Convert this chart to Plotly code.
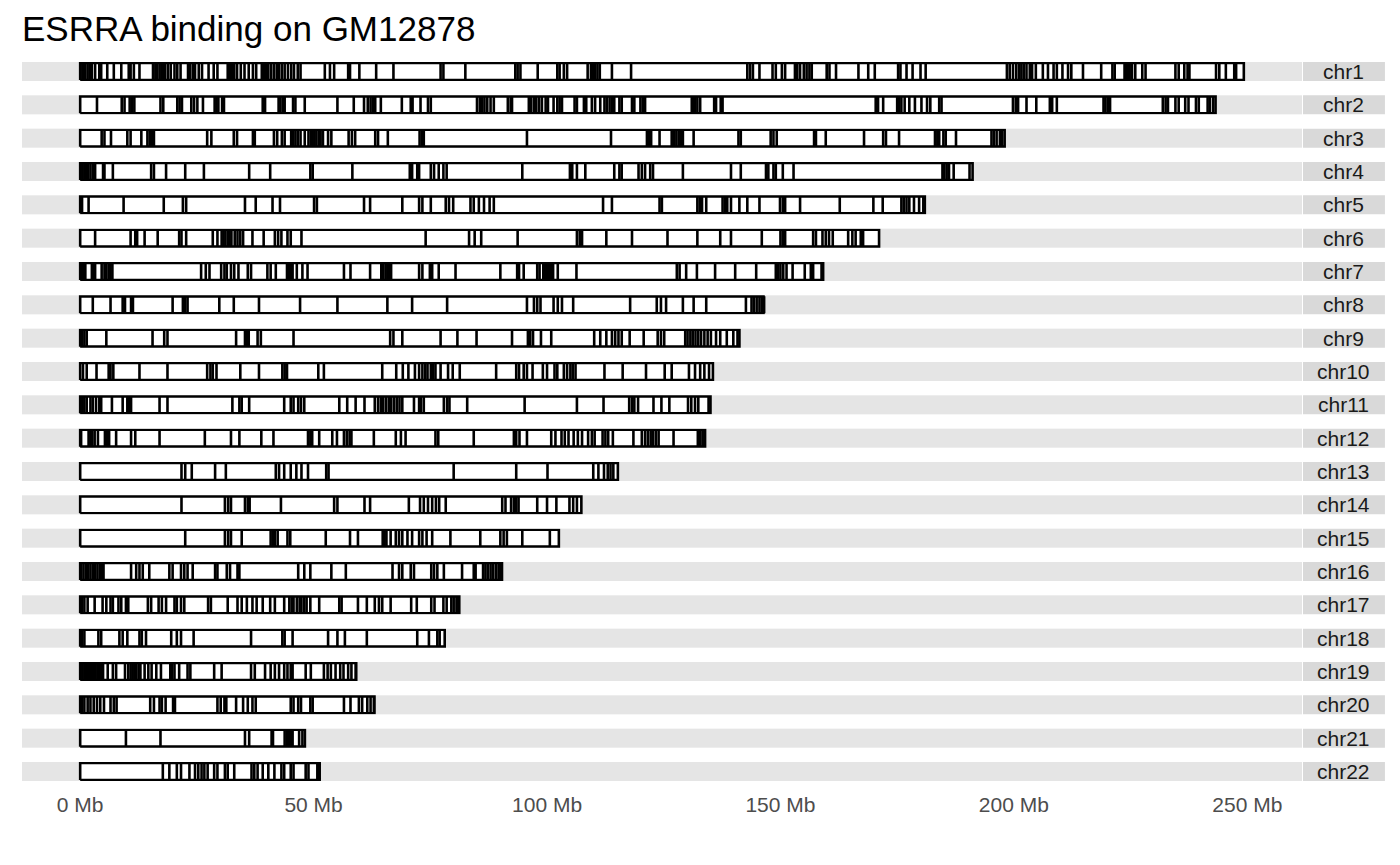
import plotly.graph_objects as go
from plotly.subplots import make_subplots

# chromosome names and hg19 lengths (Mb)
chrom_names = ["chr1", "chr2", "chr3", "chr4", "chr5", "chr6", "chr7", "chr8", "chr9", "chr10", "chr11",
               "chr12", "chr13", "chr14", "chr15", "chr16", "chr17", "chr18", "chr19", "chr20", "chr21", "chr22"]
chrom_lengths = [249.25, 243.20, 198.02, 191.15, 180.92, 171.12, 159.14, 146.36, 141.21, 135.53, 135.01,
                 133.85, 115.17, 107.35, 102.53, 90.35, 81.20, 78.08, 59.13, 63.03, 48.13, 51.30]

# ESRRA peak positions (Mb)
peaks_chr1 = [0.1, 0.6, 1.1, 1.6, 2.1, 2.5, 3.2, 4.1, 4.5, 5.8, 7.2, 8.8, 10.4, 10.8, 11.5, 12.7, 15.6, 16.1, 16.5,
              17.0, 17.4, 17.8, 18.2, 18.8, 19.4, 20.2, 20.8, 21.5, 23.1, 23.5, 24.1, 24.6, 25.4, 26.1, 27.5, 28.6,
              29.4, 31.6, 32.1, 32.5, 33.0, 33.6, 34.4, 35.2, 36.1, 37.0, 37.7, 38.9, 39.4, 39.8, 40.3, 40.9, 41.5,
              42.1, 42.6, 43.2, 43.8, 44.5, 45.2, 45.8, 46.6, 47.2, 52.4, 53.5, 54.4, 57.4, 57.8, 59.8, 63.4, 67.1,
              77.2, 77.8, 82.5, 93.2, 93.7, 94.3, 98.0, 102.2, 102.7, 103.6, 104.3, 108.7, 109.4, 109.8, 110.3,
              110.8, 111.3, 113.9, 118.0, 142.9, 143.5, 144.1, 145.5, 148.3, 149.0, 150.3, 151.0, 153.1, 153.6,
              154.2, 155.0, 155.6, 156.2, 156.7, 159.9, 160.5, 161.9, 166.7, 168.8, 170.2, 175.2, 175.7, 177.0,
              178.3, 180.0, 181.1, 198.5, 199.1, 199.8, 200.5, 201.1, 201.6, 202.1, 202.7, 203.4, 203.9, 204.7,
              206.2, 207.3, 208.5, 209.2, 210.4, 211.6, 212.3, 214.8, 218.7, 221.1, 221.6, 223.7, 224.0, 224.4,
              224.8, 225.3, 226.0, 227.5, 228.2, 234.6, 235.3, 236.5, 237.2, 237.6, 243.3, 244.0, 245.4, 247.2,
              247.6]
peaks_chr2 = [3.6, 8.9, 9.5, 10.6, 11.1, 11.6, 17.2, 17.8, 20.8, 21.3, 21.8, 23.8, 24.4, 25.1, 26.3, 28.8, 29.2,
              29.6, 30.4, 30.8, 39.1, 39.6, 42.5, 42.9, 43.4, 43.8, 45.6, 46.1, 48.1, 55.1, 58.6, 60.8, 61.6, 62.2,
              62.7, 63.2, 64.4, 68.9, 70.8, 71.2, 72.9, 74.5, 75.1, 85.0, 85.6, 86.1, 86.6, 87.2, 87.9, 88.6, 91.6,
              92.2, 92.5, 96.1, 96.6, 97.2, 97.7, 98.3, 98.9, 99.7, 100.2, 101.4, 102.2, 102.7, 103.2, 105.9, 106.4,
              107.9, 108.4, 109.6, 110.3, 111.4, 112.3, 112.8, 113.4, 113.9, 114.4, 115.5, 116.0, 118.2, 118.7,
              120.0, 120.5, 121.0, 131.0, 131.4, 131.7, 132.2, 132.8, 135.8, 136.2, 137.2, 137.6, 170.4, 170.9,
              172.0, 175.0, 175.4, 175.9, 176.6, 177.6, 178.8, 180.2, 181.4, 182.1, 184.0, 184.5, 199.8, 200.4,
              200.9, 202.7, 204.8, 207.7, 208.2, 209.2, 219.2, 219.6, 220.1, 220.6, 231.9, 232.5, 233.0, 234.6,
              235.3, 236.7, 237.4, 239.0, 239.6, 241.5, 242.0, 242.7]
peaks_chr3 = [4.6, 5.2, 6.6, 10.1, 10.8, 13.1, 14.4, 14.9, 15.4, 15.8, 27.2, 28.1, 32.9, 33.6, 37.0, 37.4, 41.5,
              42.2, 43.2, 43.8, 45.2, 45.6, 46.1, 46.6, 47.2, 48.1, 48.9, 49.4, 49.8, 50.2, 50.6, 51.1, 51.5, 52.0,
              53.1, 53.8, 57.5, 58.2, 58.9, 63.2, 63.8, 65.9, 72.7, 73.2, 73.6, 95.7, 113.7, 121.4, 121.8, 122.3,
              124.1, 126.7, 127.2, 127.7, 128.2, 128.7, 129.1, 131.4, 141.0, 141.5, 147.9, 148.5, 149.2, 157.2,
              157.6, 159.7, 167.9, 172.0, 172.6, 175.4, 183.1, 183.6, 184.0, 184.9, 185.4, 187.6, 195.2, 195.7,
              196.3, 197.0, 197.5]
peaks_chr4 = [0.1, 0.5, 0.9, 1.3, 1.7, 2.2, 2.7, 3.2, 4.9, 5.2, 7.0, 15.2, 15.8, 18.4, 22.5, 26.5, 36.2, 40.7,
              49.3, 49.8, 58.3, 70.6, 71.1, 72.2, 72.6, 75.1, 75.8, 76.8, 77.8, 78.5, 94.7, 104.9, 105.4, 106.4,
              108.2, 114.4, 115.5, 116.0, 119.6, 120.3, 121.0, 122.1, 122.7, 129.1, 139.4, 141.5, 146.9, 147.4,
              148.5, 149.0, 150.5, 152.8, 184.7, 185.1, 185.6, 186.1, 187.1, 190.5]
peaks_chr5 = [0.4, 1.8, 9.3, 17.9, 22.0, 22.7, 35.3, 37.6, 41.2, 42.8, 50.1, 50.7, 60.8, 62.1, 69.0, 72.6, 73.3,
              75.1, 78.3, 79.0, 79.9, 83.6, 84.3, 85.4, 86.5, 87.7, 88.6, 112.0, 113.9, 124.1, 124.6, 132.2, 132.7,
              133.2, 134.1, 137.6, 138.1, 138.6, 139.4, 141.2, 142.9, 145.5, 149.9, 150.5, 151.0, 154.2, 162.7,
              169.9, 171.9, 175.9, 176.4, 177.0, 177.6, 178.6, 179.7, 180.6]
peaks_chr6 = [3.2, 10.8, 11.8, 12.2, 13.8, 16.6, 21.2, 21.7, 22.7, 28.4, 29.4, 30.3, 30.7, 31.1, 31.6, 32.0, 32.4,
              33.1, 33.7, 34.3, 34.9, 36.9, 39.3, 41.7, 42.4, 43.1, 44.4, 45.1, 47.4, 74.0, 83.3, 84.5, 85.9, 93.7,
              106.4, 107.0, 107.5, 112.7, 118.2, 125.8, 132.2, 137.1, 139.4, 146.0, 150.0, 150.5, 151.0, 157.0,
              157.6, 159.0, 159.7, 160.4, 161.2, 164.5, 165.4, 166.1, 167.2, 167.7]
peaks_chr7 = [0.2, 0.6, 1.1, 2.5, 2.9, 3.2, 4.6, 5.2, 5.6, 6.1, 6.5, 6.9, 25.9, 26.9, 27.7, 30.2, 30.9, 31.4, 32.3,
              33.0, 33.9, 35.9, 36.6, 40.1, 40.8, 41.9, 44.3, 44.7, 45.1, 45.5, 46.4, 47.6, 48.7, 56.5, 57.9, 62.1,
              64.5, 64.9, 65.4, 65.8, 66.2, 66.6, 72.6, 73.3, 74.9, 75.4, 76.8, 80.4, 90.0, 93.6, 94.0, 95.0, 97.9,
              98.4, 99.2, 99.6, 100.0, 100.4, 100.9, 101.3, 102.3, 106.3, 127.8, 128.4, 129.8, 132.1, 136.0, 140.3,
              144.8, 149.0, 149.5, 150.0, 150.6, 151.3, 152.6, 155.2, 156.5, 157.0, 158.8]
peaks_chr8 = [2.7, 6.5, 9.1, 9.6, 10.9, 11.3, 19.8, 22.0, 22.5, 23.0, 29.8, 32.9, 38.3, 47.1, 55.1, 65.8, 71.1,
              78.6, 95.7, 97.2, 97.9, 98.6, 101.4, 102.3, 103.2, 105.6, 117.8, 123.5, 124.4, 125.5, 129.1, 131.4,
              134.1, 142.6, 143.8, 144.3, 144.9, 145.5, 146.0, 146.5]
peaks_chr9 = [0.4, 0.9, 1.4, 5.6, 15.5, 18.0, 18.7, 33.4, 35.3, 35.7, 36.1, 38.0, 38.7, 45.7, 66.4, 67.1, 69.0,
              77.2, 80.8, 84.9, 92.5, 95.9, 96.4, 97.0, 98.7, 100.9, 110.1, 111.4, 112.7, 113.9, 114.6, 115.3,
              116.0, 117.7, 120.7, 123.7, 124.4, 125.1, 129.6, 130.1, 130.7, 131.2, 131.8, 132.4, 133.0, 133.7,
              134.4, 135.1, 136.2, 137.1, 138.5, 139.9, 140.8]
peaks_chr10 = [0.6, 1.4, 3.5, 6.1, 6.5, 7.1, 12.7, 18.7, 27.2, 27.9, 28.4, 29.2, 34.3, 38.3, 43.3, 43.8, 44.3,
               51.0, 52.2, 64.7, 67.7, 69.1, 70.3, 71.7, 72.6, 73.3, 73.9, 74.4, 75.1, 75.6, 76.1, 77.2, 78.8, 79.8,
               81.3, 89.1, 93.4, 94.0, 95.0, 95.7, 96.9, 99.1, 100.0, 101.6, 102.2, 103.6, 104.3, 105.0, 105.5,
               106.1, 112.3, 116.2, 121.2, 125.2, 126.7, 130.4, 131.7, 132.8, 133.7, 134.7]
peaks_chr11 = [0.1, 0.5, 0.9, 1.4, 2.2, 2.7, 3.4, 4.1, 4.5, 6.8, 9.1, 10.1, 10.5, 10.9, 17.0, 18.7, 32.6, 34.1,
               34.6, 36.2, 43.7, 45.1, 45.7, 46.7, 47.3, 48.0, 55.5, 57.2, 59.0, 60.9, 63.1, 63.8, 64.4, 64.9, 65.5,
               66.1, 66.6, 67.2, 67.8, 68.4, 69.0, 71.5, 72.6, 73.0, 73.6, 77.9, 78.6, 79.1, 82.9, 95.2, 106.4,
               112.1, 117.6, 118.2, 118.7, 119.5, 122.8, 124.5, 126.2, 130.2, 130.9, 131.7, 132.4, 134.6]
peaks_chr12 = [0.2, 1.8, 2.2, 2.6, 3.1, 3.8, 5.3, 5.8, 6.2, 7.7, 10.9, 11.8, 17.0, 26.7, 32.3, 34.1, 38.8, 41.4,
               48.8, 49.3, 49.7, 51.2, 54.0, 55.0, 56.5, 57.1, 57.7, 58.1, 62.9, 67.6, 68.7, 69.7, 76.1, 76.7, 84.3,
               92.9, 93.4, 94.1, 95.7, 100.9, 101.8, 103.1, 103.8, 104.6, 105.7, 106.6, 107.5, 108.8, 109.6, 110.2,
               111.9, 112.5, 113.1, 114.1, 118.5, 120.3, 121.0, 121.6, 122.2, 122.7, 123.3, 123.9, 127.1, 132.3,
               132.8, 133.3, 133.7]
peaks_chr13 = [21.7, 22.5, 23.9, 28.9, 31.2, 41.9, 42.6, 43.7, 45.1, 46.3, 47.4, 48.8, 52.7, 53.2, 80.0, 93.4,
               100.1, 109.9, 111.0, 112.2, 113.0, 113.6, 114.2]
peaks_chr14 = [21.7, 31.0, 31.7, 32.3, 35.3, 35.9, 36.3, 43.0, 54.4, 55.1, 60.9, 62.1, 70.4, 72.8, 73.6, 74.5,
               75.4, 76.2, 76.9, 78.3, 90.4, 91.1, 92.3, 92.9, 93.4, 93.9, 97.9, 100.0, 102.0, 104.8, 105.6, 106.4]
peaks_chr15 = [22.5, 31.0, 31.7, 32.3, 34.6, 40.8, 41.3, 41.7, 42.3, 44.4, 45.0, 52.6, 57.8, 59.5, 64.8, 65.2,
               65.6, 66.5, 67.6, 68.3, 69.0, 70.1, 71.1, 72.6, 73.3, 74.2, 75.4, 79.3, 85.7, 90.0, 90.7, 91.4, 94.7,
               100.6]
peaks_chr16 = [0.2, 0.7, 1.2, 1.7, 2.2, 2.7, 3.2, 3.7, 4.2, 4.7, 5.0, 10.9, 12.0, 12.7, 13.4, 14.8, 19.1, 19.8,
               21.6, 22.3, 23.0, 24.1, 28.9, 29.4, 31.4, 32.1, 33.7, 34.1, 46.7, 48.0, 49.3, 53.8, 56.9, 66.9, 68.3,
               69.0, 70.8, 71.5, 75.2, 75.8, 76.5, 77.9, 81.8, 84.3, 84.7, 86.3, 86.8, 87.3, 87.9, 88.4, 89.0, 89.6,
               90.0]
peaks_chr17 = [0.4, 0.9, 1.6, 3.1, 4.8, 5.6, 6.5, 7.0, 8.2, 8.8, 9.8, 10.3, 14.5, 15.2, 16.8, 17.5, 18.4, 20.2,
               20.7, 21.6, 22.3, 27.4, 28.0, 31.6, 33.7, 34.6, 35.7, 36.9, 37.8, 39.1, 40.7, 41.7, 43.7, 44.8, 45.3,
               45.7, 46.4, 47.0, 47.4, 48.0, 48.5, 49.3, 51.2, 55.5, 56.0, 59.5, 61.4, 63.1, 64.0, 64.7, 66.5, 70.9,
               72.1, 75.2, 75.9, 77.8, 78.5, 79.5, 80.0, 80.6, 81.0]
peaks_chr18 = [0.4, 0.9, 3.9, 4.5, 8.4, 9.1, 10.1, 12.7, 13.2, 14.1, 19.5, 20.7, 21.6, 24.3, 36.6, 43.3, 43.8,
               45.5, 53.1, 55.1, 56.7, 61.4, 72.2, 74.7, 76.5, 77.0]
peaks_chr19 = [0.1, 0.5, 0.9, 1.3, 1.7, 2.1, 2.5, 2.9, 3.3, 3.7, 4.1, 4.5, 4.9, 5.9, 7.0, 7.7, 9.6, 10.3, 10.8,
               11.2, 11.6, 12.0, 12.5, 12.9, 13.8, 14.6, 15.3, 16.3, 17.3, 19.3, 19.7, 20.2, 21.2, 23.0, 23.6, 28.7,
               30.3, 36.6, 37.4, 39.6, 40.8, 41.7, 42.6, 43.7, 44.4, 45.1, 45.5, 48.3, 49.4, 52.2, 53.0, 53.7, 54.7,
               55.7, 56.4, 57.4, 58.1, 59.0]
peaks_chr20 = [0.4, 0.9, 1.6, 2.2, 2.9, 3.6, 4.3, 5.1, 6.5, 7.2, 7.8, 15.0, 15.8, 17.0, 17.5, 18.3, 19.9, 20.3,
               29.4, 30.1, 30.9, 31.3, 33.4, 34.9, 35.9, 36.9, 37.6, 45.1, 45.7, 46.7, 47.3, 49.3, 49.8, 56.5, 57.9,
               59.7, 60.4, 61.5, 62.2, 62.9]
peaks_chr21 = [9.8, 17.2, 35.3, 36.2, 41.0, 41.3, 43.8, 44.3, 44.7, 45.1, 45.5, 46.9, 47.6]
peaks_chr22 = [17.7, 19.1, 20.7, 21.6, 23.4, 24.6, 25.3, 26.0, 26.6, 27.3, 28.7, 29.4, 31.0, 31.6, 33.0, 36.7,
               37.3, 38.0, 39.1, 40.3, 41.6, 43.1, 43.7, 45.1, 45.7, 48.3, 48.9, 50.8, 51.1]

peaks = [peaks_chr1, peaks_chr2, peaks_chr3, peaks_chr4, peaks_chr5, peaks_chr6, peaks_chr7, peaks_chr8,
         peaks_chr9, peaks_chr10, peaks_chr11, peaks_chr12, peaks_chr13, peaks_chr14, peaks_chr15, peaks_chr16,
         peaks_chr17, peaks_chr18, peaks_chr19, peaks_chr20, peaks_chr21, peaks_chr22]

tick_vals = [0, 50, 100, 150, 200, 250]
tick_text = ["0 Mb", "50 Mb", "100 Mb", "150 Mb", "200 Mb", "250 Mb"]

n = len(chrom_names)
fig = make_subplots(rows=n, cols=1, shared_xaxes=True, vertical_spacing=0.01993)

xmax = max(chrom_lengths)
pad = 0.05 * xmax

for i, (name, length, pk) in enumerate(zip(chrom_names, chrom_lengths, peaks)):
    row = i + 1
    # chromosome body
    fig.add_trace(go.Scatter(
        x=[0, length, length, 0, 0], y=[0, 0, 1, 1, 0],
        mode="lines", fill="toself", fillcolor="white",
        line={"color": "black", "width": 2.6},
        hoverinfo="skip", showlegend=False
    ), row=row, col=1)
    # binding sites as vertical ticks
    xs, ys = [], []
    for p in pk:
        xs += [p, p, None]
        ys += [0, 1, None]
    fig.add_trace(go.Scatter(
        x=xs, y=ys, mode="lines",
        line={"color": "black", "width": 2.6},
        name=name, showlegend=False
    ), row=row, col=1)

    yref = "y domain" if row == 1 else "y%d domain" % row
    fig.add_shape(type="rect", xref="paper", yref=yref,
                  x0=1.0008, x1=1.0648, y0=0, y1=1,
                  fillcolor="#D9D9D9", line={"width": 0}, layer="below")
    fig.add_annotation(text=name, xref="paper", yref=yref, x=1.0328, y=0.5,
                       xanchor="center", yanchor="middle", showarrow=False,
                       font={"size": 21, "color": "#1A1A1A"})

fig.update_xaxes(range=[-pad, xmax + pad], showgrid=False, zeroline=False,
                 tickvals=tick_vals, ticktext=tick_text, ticks="outside", ticklen=5,
                 tickcolor="rgba(0,0,0,0)", tickfont={"size": 21, "color": "#4D4D4D"})
fig.update_yaxes(range=[-0.06, 1.06], showgrid=False, zeroline=False, showticklabels=False)

# page body has an 8px margin, so the figure is a bit smaller and margins shifted
fig.update_layout(
    width=1392, height=857,
    margin={"l": 14, "r": 98, "t": 54, "b": 84},
    plot_bgcolor="#E5E5E5", paper_bgcolor="white",
    font={"family": "Liberation Sans, Arial, sans-serif"},
    title={"text": "ESRRA binding on GM12878", "x": 14 / 1392, "xanchor": "left",
           "y": 1 - 21 / 857, "yanchor": "middle", "font": {"size": 35, "color": "black"}},
)

fig.write_html("out.html")
